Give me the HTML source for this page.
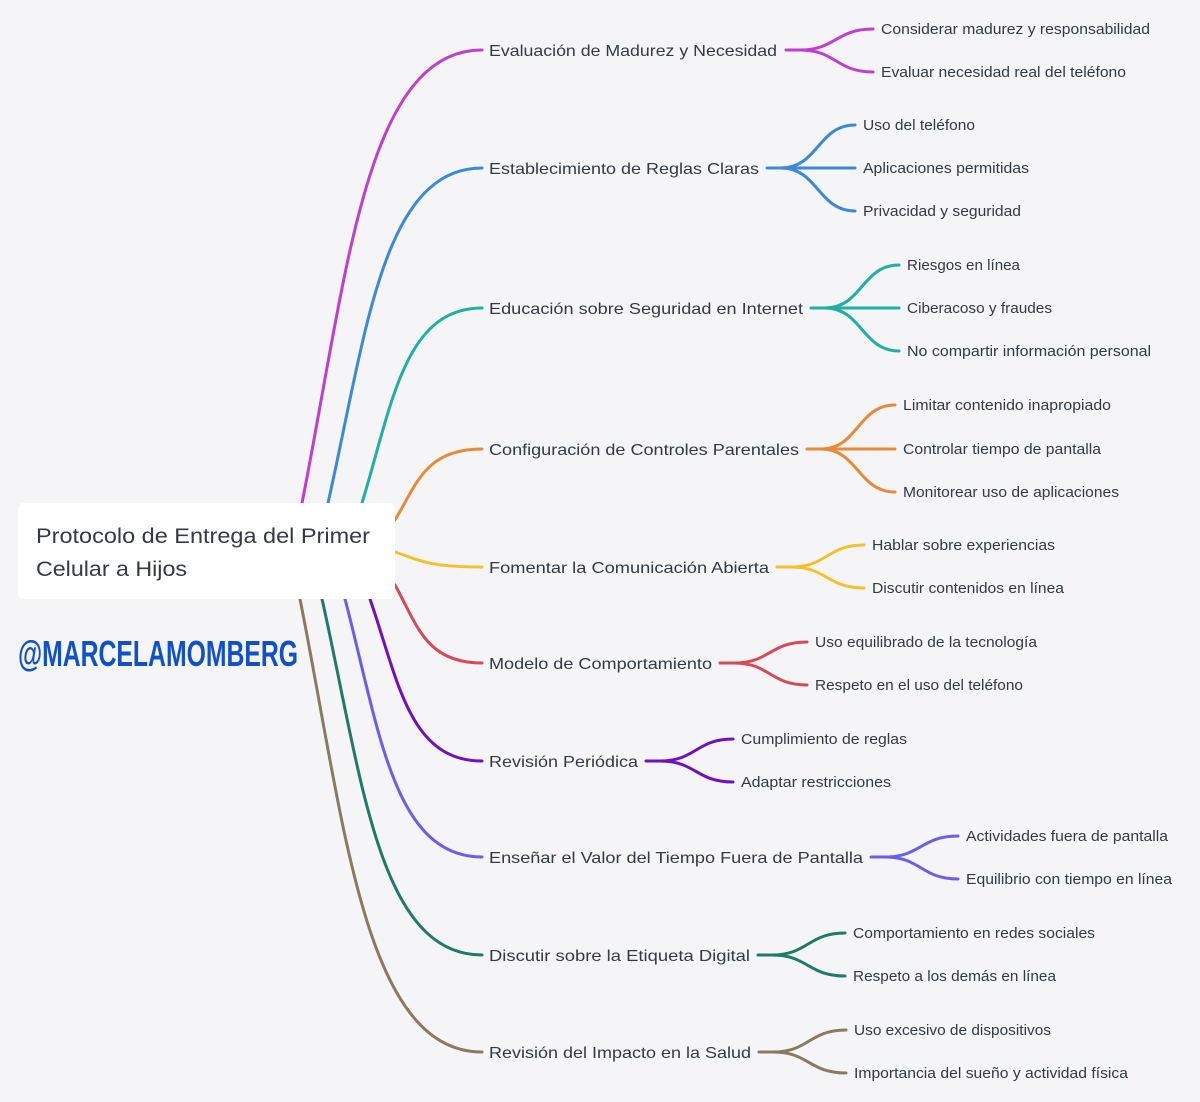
<!DOCTYPE html>
<html><head><meta charset="utf-8"><style>
html,body{margin:0;padding:0;background:#f5f5f7;}
svg{display:block}
text{font-family:"Liberation Sans",sans-serif;fill:#333a44}
.m{font-size:16px}
.c{font-size:14.5px}
path{fill:none;stroke-width:3;stroke-linecap:round}
</style></head><body>
<svg width="1200" height="1102" viewBox="0 0 1200 1102" xmlns="http://www.w3.org/2000/svg">
<rect width="1200" height="1102" fill="#f5f5f7"/>
<!-- main branches -->
<path stroke="#c03fd0" d="M302,503 C347,276 365,50 482,50"/>
<path stroke="#3a8ad8" d="M328,503 C366,335 382,168 482,168"/>
<path stroke="#20b0a0" d="M362,503 C392,405 404,308 482,308"/>
<path stroke="#e88a3a" d="M395,520 C417,484 425,449 482,449"/>
<path stroke="#f5c030" d="M395,552 C417,559 425,567 482,567"/>
<path stroke="#d84858" d="M395,585 C417,624 425,663 482,663"/>
<path stroke="#7010c0" d="M370,599 C398,680 409,761 482,761"/>
<path stroke="#6a5ef0" d="M345,599 C379,728 393,857 482,857"/>
<path stroke="#207a68" d="M322,599 C362,777 378,955 482,955"/>
<path stroke="#8a7a60" d="M300,599 C345,825 364,1052 482,1052"/>
<!-- forks -->
<g stroke="#c03fd0"><path d="M786,50 L800,50 C836,50 836,29 873,29"/><path d="M800,50 C836,50 836,72 873,72"/></g>
<g stroke="#3a8ad8"><path d="M767,168 L781,168 C818,168 818,125 855,125"/><path d="M781,168 L855,168"/><path d="M781,168 C818,168 818,211 855,211"/></g>
<g stroke="#20b0a0"><path d="M811,308 L825,308 C862,308 862,265 899,265"/><path d="M825,308 L899,308"/><path d="M825,308 C862,308 862,351 899,351"/></g>
<g stroke="#e88a3a"><path d="M807,449 L821,449 C858,449 858,405 895,405"/><path d="M821,449 L895,449"/><path d="M821,449 C858,449 858,492 895,492"/></g>
<g stroke="#f5c030"><path d="M777,567 L791,567 C827,567 827,545 864,545"/><path d="M791,567 C827,567 827,588 864,588"/></g>
<g stroke="#d84858"><path d="M720,663 L734,663 C770,663 770,642 807,642"/><path d="M734,663 C770,663 770,685 807,685"/></g>
<g stroke="#7010c0"><path d="M646,761 L660,761 C696,761 696,739 733,739"/><path d="M660,761 C696,761 696,782 733,782"/></g>
<g stroke="#6a5ef0"><path d="M871,857 L885,857 C921,857 921,836 958,836"/><path d="M885,857 C921,857 921,879 958,879"/></g>
<g stroke="#207a68"><path d="M758,955 L772,955 C808,955 808,933 845,933"/><path d="M772,955 C808,955 808,976 845,976"/></g>
<g stroke="#8a7a60"><path d="M759,1052 L773,1052 C809,1052 809,1030 846,1030"/><path d="M773,1052 C809,1052 809,1073 846,1073"/></g>
<!-- root -->
<rect x="18" y="503" width="377" height="96" rx="6" fill="#ffffff"/>
<text x="36" y="543" style="font-size:21px" textLength="334" lengthAdjust="spacingAndGlyphs">Protocolo de Entrega del Primer</text>
<text x="36" y="576" style="font-size:21px" textLength="151" lengthAdjust="spacingAndGlyphs">Celular a Hijos</text>
<text x="18" y="666" style="font-size:36px;font-weight:bold;fill:#1050c8" textLength="280" lengthAdjust="spacingAndGlyphs">@MARCELAMOMBERG</text>
<!-- main labels -->
<text class="m" x="489" y="56" textLength="288" lengthAdjust="spacingAndGlyphs">Evaluación de Madurez y Necesidad</text>
<text class="m" x="489" y="174" textLength="270" lengthAdjust="spacingAndGlyphs">Establecimiento de Reglas Claras</text>
<text class="m" x="489" y="314" textLength="314" lengthAdjust="spacingAndGlyphs">Educación sobre Seguridad en Internet</text>
<text class="m" x="489" y="455" textLength="310" lengthAdjust="spacingAndGlyphs">Configuración de Controles Parentales</text>
<text class="m" x="489" y="573" textLength="280" lengthAdjust="spacingAndGlyphs">Fomentar la Comunicación Abierta</text>
<text class="m" x="489" y="669" textLength="223" lengthAdjust="spacingAndGlyphs">Modelo de Comportamiento</text>
<text class="m" x="489" y="767" textLength="149" lengthAdjust="spacingAndGlyphs">Revisión Periódica</text>
<text class="m" x="489" y="863" textLength="374" lengthAdjust="spacingAndGlyphs">Enseñar el Valor del Tiempo Fuera de Pantalla</text>
<text class="m" x="489" y="961" textLength="261" lengthAdjust="spacingAndGlyphs">Discutir sobre la Etiqueta Digital</text>
<text class="m" x="489" y="1058" textLength="262" lengthAdjust="spacingAndGlyphs">Revisión del Impacto en la Salud</text>
<!-- children -->
<text class="c" x="881" y="34" textLength="269" lengthAdjust="spacingAndGlyphs">Considerar madurez y responsabilidad</text>
<text class="c" x="881" y="77" textLength="245" lengthAdjust="spacingAndGlyphs">Evaluar necesidad real del teléfono</text>
<text class="c" x="863" y="130" textLength="112" lengthAdjust="spacingAndGlyphs">Uso del teléfono</text>
<text class="c" x="863" y="173" textLength="166" lengthAdjust="spacingAndGlyphs">Aplicaciones permitidas</text>
<text class="c" x="863" y="216" textLength="158" lengthAdjust="spacingAndGlyphs">Privacidad y seguridad</text>
<text class="c" x="907" y="270" textLength="113" lengthAdjust="spacingAndGlyphs">Riesgos en línea</text>
<text class="c" x="907" y="313" textLength="145" lengthAdjust="spacingAndGlyphs">Ciberacoso y fraudes</text>
<text class="c" x="907" y="356" textLength="244" lengthAdjust="spacingAndGlyphs">No compartir información personal</text>
<text class="c" x="903" y="410" textLength="208" lengthAdjust="spacingAndGlyphs">Limitar contenido inapropiado</text>
<text class="c" x="903" y="454" textLength="198" lengthAdjust="spacingAndGlyphs">Controlar tiempo de pantalla</text>
<text class="c" x="903" y="497" textLength="216" lengthAdjust="spacingAndGlyphs">Monitorear uso de aplicaciones</text>
<text class="c" x="872" y="550" textLength="183" lengthAdjust="spacingAndGlyphs">Hablar sobre experiencias</text>
<text class="c" x="872" y="593" textLength="192" lengthAdjust="spacingAndGlyphs">Discutir contenidos en línea</text>
<text class="c" x="815" y="647" textLength="222" lengthAdjust="spacingAndGlyphs">Uso equilibrado de la tecnología</text>
<text class="c" x="815" y="690" textLength="208" lengthAdjust="spacingAndGlyphs">Respeto en el uso del teléfono</text>
<text class="c" x="741" y="744" textLength="166" lengthAdjust="spacingAndGlyphs">Cumplimiento de reglas</text>
<text class="c" x="741" y="787" textLength="150" lengthAdjust="spacingAndGlyphs">Adaptar restricciones</text>
<text class="c" x="966" y="841" textLength="202" lengthAdjust="spacingAndGlyphs">Actividades fuera de pantalla</text>
<text class="c" x="966" y="884" textLength="206" lengthAdjust="spacingAndGlyphs">Equilibrio con tiempo en línea</text>
<text class="c" x="853" y="938" textLength="242" lengthAdjust="spacingAndGlyphs">Comportamiento en redes sociales</text>
<text class="c" x="853" y="981" textLength="203" lengthAdjust="spacingAndGlyphs">Respeto a los demás en línea</text>
<text class="c" x="854" y="1035" textLength="197" lengthAdjust="spacingAndGlyphs">Uso excesivo de dispositivos</text>
<text class="c" x="854" y="1078" textLength="274" lengthAdjust="spacingAndGlyphs">Importancia del sueño y actividad física</text>
</svg>
</body></html>
